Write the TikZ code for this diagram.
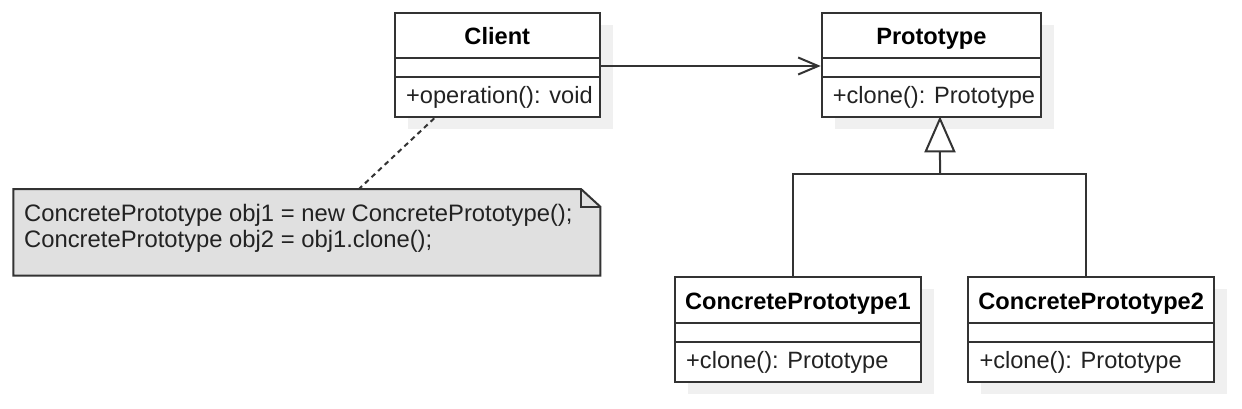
\documentclass[tikz,border=0pt]{standalone}
\usepackage{fontspec}
\setmainfont{Liberation Sans}
\usetikzlibrary{arrows.meta,calc}
\definecolor{linec}{HTML}{333333}
\definecolor{textc}{HTML}{222222}
\definecolor{notefill}{HTML}{E0E0E0}
\definecolor{shadowc}{HTML}{F0F0F0}
\tikzset{
  classbox/.style={draw=linec, line width=2pt, fill=white, inner sep=0pt, rectangle},
  divider/.style={draw=linec, line width=2pt},
  headtxt/.style={anchor=base, inner sep=0pt, text=black, font=\fontsize{23.6}{28}\selectfont\bfseries},
  membtxt/.style={anchor=base west, inner sep=0pt, text=textc, font=\fontsize{23.6}{28}\selectfont},
  notetxt/.style={anchor=base west, inner sep=0pt, text=textc, font=\fontsize{23.8}{28}\selectfont},
  conn/.style={draw=linec, line width=2pt},
  assoc/.style={conn, -{Straight Barb[length=20pt,width=17pt,line width=2pt]}},
  gen/.style={conn, -{Triangle[open,length=36pt,width=31pt,line width=2pt,fill=white]}},
  notelink/.style={draw=linec, line width=2pt, dash pattern=on 5pt off 4pt},
}
\newcommand{\umlclass}[7]{%
  % #1 name, #2 left, #3 top, #4 right, #5 bottom, #6 title, #7 member
  \fill[shadowc] (#2+13,#3+12) rectangle (#4+13,#5+12);
  \node[classbox, minimum width={#4-#2}, minimum height={#5-#3}] (#1) at ({(#2+#4)/2},{(#3+#5)/2}) {};
  \draw[divider] (#2,#3+45.5) -- (#4,#3+45.5);
  \draw[divider] (#2,#3+64.3) -- (#4,#3+64.3);
  \node[headtxt] (#1-title) at ({(#2+#4)/2},#3+32) {#6};
  \node[membtxt] (#1-op) at (#2+11,#3+90.7) {#7};
}
\begin{document}
\begin{tikzpicture}[x=1pt,y=-1pt]
\useasboundingbox[fill=white] (0,0) rectangle (1242,408);

\umlclass{client}{395}{12.7}{599.5}{117.3}{Client}{+operation(): void}
\umlclass{proto}{821.7}{12.7}{1041}{117.3}{Prototype}{+clone(): Prototype}
\umlclass{cpa}{675}{277.3}{920.7}{381.7}{ConcretePrototype1}{+clone(): Prototype}
\umlclass{cpb}{968.3}{277.3}{1214}{381.7}{ConcretePrototype2}{+clone(): Prototype}

% note
\node[inner sep=0pt, minimum width=586.7, minimum height=86.5] (note) at (306.65,232.25) {};
\draw[draw=linec, line width=2pt, fill=notefill]
  (13.3,189) -- (581,189) -- (600.3,206.7) -- (600.3,275.5) -- (13.3,275.5) -- cycle;
\draw[draw=linec, line width=2pt, line join=miter] (581,189) -- (581,206.7) -- (600.3,206.7);
\node[notetxt] (note-l1) at (24,221.7) {ConcretePrototype obj1 = new ConcretePrototype();};
\node[notetxt] (note-l2) at (24,247.3) {ConcretePrototype obj2 = obj1.clone();};

% connectors
\draw[notelink] ([xshift=-63pt]client.south) -- ([xshift=52.5pt]note.north);
\draw[assoc] ([yshift=-1pt]client.east) -- ([yshift=-1pt]proto.west);
\coordinate (gj) at (940,174);
\draw[conn] ([xshift=-4.6pt]cpa.north) |- (gj) -| ([xshift=-5pt]cpb.north);
\draw[gen] (gj) -- ([xshift=8.6pt,yshift=2pt]proto.south);
\end{tikzpicture}
\end{document}
